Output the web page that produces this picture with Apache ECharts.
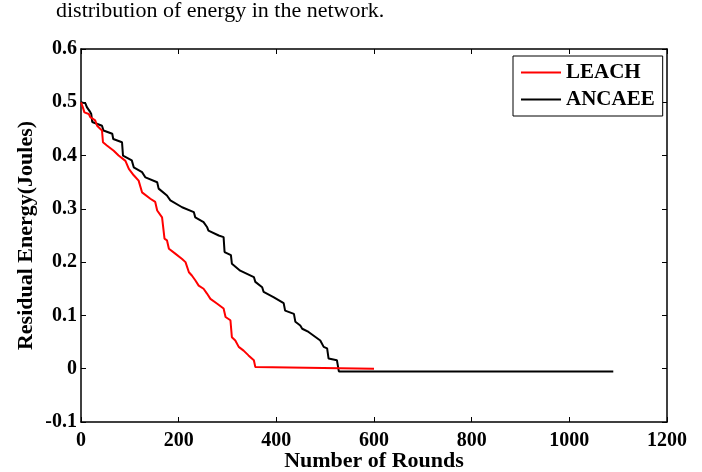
<!DOCTYPE html>
<html>
<head>
<meta charset="utf-8">
<script src="https://cdn.jsdelivr.net/npm/echarts@6/dist/echarts.min.js"></script>
<style>
  html, body { margin: 0; padding: 0; background: #fff; }
  #chart { width: 702px; height: 472px; }
</style>
</head>
<body>
<div id="chart"></div>
<script>
const seriesNames = ["LEACH", "ANCAEE"];

const leachRounds = [0, 4, 7, 16, 19, 29, 33, 43, 45, 53, 67, 77, 91, 98, 108, 118, 125, 142, 152, 156,
  166, 171, 176, 180, 193, 207, 214, 221, 227, 234, 241, 251, 258, 265, 279, 292, 296, 306, 309, 316,
  323, 333, 343, 354, 357, 360, 600];
const leachEnergy = [0.5, 0.49, 0.481, 0.478, 0.472, 0.466, 0.456, 0.447, 0.425, 0.419, 0.409, 0.4, 0.39, 0.375, 0.363, 0.353, 0.331, 0.319, 0.313, 0.297,
  0.284, 0.244, 0.241, 0.225, 0.216, 0.206, 0.2, 0.181, 0.175, 0.166, 0.156, 0.15, 0.141, 0.131, 0.122, 0.113, 0.097, 0.091, 0.059, 0.053,
  0.041, 0.034, 0.025, 0.016, 0.003, 0, 0];

const ancaeeRounds = [0, 9, 12, 18, 21, 23, 43, 46, 64, 66, 84, 86, 104, 108, 125, 132, 156, 159, 176, 183,
  207, 231, 234, 251, 258, 261, 282, 292, 294, 307, 309, 326, 354, 357, 371, 374, 395, 415, 418, 436,
  439, 449, 453, 466, 490, 497, 504, 507, 524, 528, 1090];
const ancaeeEnergy = [0.5, 0.498, 0.491, 0.483, 0.478, 0.463, 0.456, 0.447, 0.441, 0.431, 0.425, 0.4, 0.391, 0.378, 0.369, 0.359, 0.35, 0.338, 0.325, 0.316,
  0.303, 0.294, 0.284, 0.275, 0.266, 0.259, 0.25, 0.247, 0.219, 0.213, 0.197, 0.184, 0.172, 0.163, 0.153, 0.144, 0.134, 0.123, 0.109, 0.103,
  0.088, 0.081, 0.075, 0.069, 0.053, 0.041, 0.038, 0.019, 0.016, -0.005, -0.005];

const xTicks = [0, 200, 400, 600, 800, 1000, 1200];
const yTicks = [-0.1, 0, 0.1, 0.2, 0.3, 0.4, 0.5, 0.6];

const FONT = "Liberation Serif";

const toPairs = (xs, ys) => xs.map((x, i) => [x, ys[i]]);

const chart = echarts.init(document.getElementById("chart"));

const baseX = {
  type: "value",
  min: xTicks[0],
  max: xTicks[xTicks.length - 1],
  interval: xTicks[1] - xTicks[0],
  axisLine: { onZero: false, lineStyle: { color: "#000", width: 1.5 } },
  axisTick: { inside: true, length: 5, lineStyle: { color: "#000", width: 1 } },
  splitLine: { show: false },
};

const baseY = {
  type: "value",
  min: yTicks[0],
  max: yTicks[yTicks.length - 1],
  interval: 0.1,
  axisLine: { onZero: false, lineStyle: { color: "#000", width: 1.5 } },
  axisTick: { inside: true, length: 5, lineStyle: { color: "#000", width: 1 } },
  splitLine: { show: false },
};

const option = {
  animation: false,
  backgroundColor: "#fff",
  textStyle: { fontFamily: FONT },
  graphic: [
    {
      type: "text",
      x: 56,
      y: 11,
      style: {
        text: "distribution of energy in the network.",
        font: "22px 'Liberation Serif'",
        fill: "#000",
        verticalAlign: "middle",
      },
    },
  ],
  grid: { left: 81, right: 35, top: 49, bottom: 50, outerBoundsMode: "none" },
  legend: {
    data: seriesNames.map((name) => ({ name, icon: "rect" })),
    orient: "vertical",
    left: 513,
    top: 56,
    padding: [6, 8, 6, 8],
    itemGap: 6,
    itemWidth: 40,
    itemHeight: 2,
    backgroundColor: "#fff",
    borderColor: "#000",
    borderWidth: 1,
    borderRadius: 0,
    textStyle: { fontFamily: FONT, fontWeight: "bold", fontSize: 21, color: "#000" },
  },
  xAxis: [
    {
      ...baseX,
      position: "bottom",
      name: "Number of Rounds",
      nameLocation: "middle",
      nameGap: 28,
      nameMoveOverlap: false,
      nameTextStyle: { fontFamily: FONT, fontWeight: "bold", fontSize: 22, color: "#000" },
      axisLabel: {
        margin: 9,
        fontFamily: FONT,
        fontWeight: "bold",
        fontSize: 20,
        color: "#000",
        formatter: (v) => String(v),
      },
    },
    {
      ...baseX,
      position: "top",
      axisLabel: { show: false },
    },
  ],
  yAxis: [
    {
      ...baseY,
      position: "left",
      name: "Residual Energy(Joules)",
      nameLocation: "middle",
      nameGap: 44,
      nameMoveOverlap: false,
      nameTextStyle: { fontFamily: FONT, fontWeight: "bold", fontSize: 22, color: "#000" },
      axisLabel: {
        margin: 4,
        padding: [7, 0, 0, 0],
        fontFamily: FONT,
        fontWeight: "bold",
        fontSize: 20,
        color: "#000",
        formatter: (v) => (Math.abs(v) < 1e-9 ? "0" : String(+v.toFixed(1))),
      },
    },
    {
      ...baseY,
      position: "right",
      axisLabel: { show: false },
    },
  ],
  series: [
    {
      name: seriesNames[0],
      type: "line",
      symbol: "none",
      data: toPairs(leachRounds, leachEnergy),
      lineStyle: { color: "#ff0000", width: 2 },
      itemStyle: { color: "#ff0000" },
      z: 3,
    },
    {
      name: seriesNames[1],
      type: "line",
      symbol: "none",
      data: toPairs(ancaeeRounds, ancaeeEnergy),
      lineStyle: { color: "#000", width: 2 },
      itemStyle: { color: "#000" },
      z: 2,
    },
  ],
};

chart.setOption(option);
</script>
</body>
</html>
